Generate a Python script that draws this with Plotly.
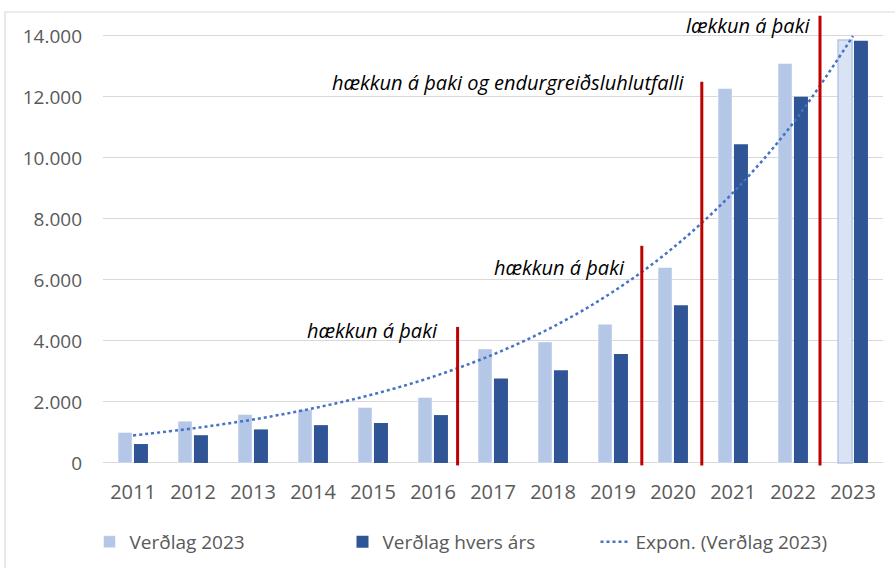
import numpy as np
import plotly.graph_objects as go

years = ["2011", "2012", "2013", "2014", "2015", "2016", "2017",
         "2018", "2019", "2020", "2021", "2022", "2023"]
verdlag_2023 = [1000, 1370, 1590, 1750, 1820, 2150, 3740,
                3970, 4550, 6410, 12280, 13100, 13870]
verdlag_hvers_ars = [620, 910, 1100, 1240, 1310, 1570, 2770,
                     3040, 3570, 5170, 10450, 12010, 13840]

# Events (position between years as category index, line top value, label)
event_pos = [5.41, 8.48, 9.48, 11.45]
event_top = [4460, 7120, 12500, 14660]
event_labels = ["hækkun á þaki", "hækkun á þaki",
                "hækkun á þaki og endurgreiðsluhlutfalli", "lækkun á þaki"]

y_ticks = [0, 2000, 4000, 6000, 8000, 10000, 12000, 14000]
y_tick_text = ["0", "2.000", "4.000", "6.000", "8.000", "10.000", "12.000", "14.000"]

# Exponential trendline fitted to Verðlag 2023
idx = np.arange(len(years))
b, a = np.polyfit(idx, np.log(verdlag_2023), 1)
trend = np.exp(a + b * idx)

light = "#b4c7e7"
dark = "#2f5597"
light_colors = [light] * (len(years) - 1) + ["#dae3f3"]
light_lines = ["#ffffff"] * (len(years) - 1) + [light]
light_widths = [0.5] * (len(years) - 1) + [1.5]

fig = go.Figure()
fig.add_trace(go.Bar(
    x=years, y=verdlag_2023, name="Verðlag 2023",
    marker=dict(color=light_colors, line=dict(color=light_lines, width=light_widths)),
))
fig.add_trace(go.Bar(
    x=years, y=verdlag_hvers_ars, name="Verðlag hvers árs",
    marker=dict(color=dark, line=dict(width=0)),
))
fig.add_trace(go.Scatter(
    x=years, y=trend, name="Expon. (Verðlag 2023)", mode="lines",
    line=dict(color="#4472c4", width=2.5, dash="dot", shape="spline"),
))

shapes = []
for p, t in zip(event_pos, event_top):
    shapes.append(dict(type="line", xref="x", yref="y", x0=p, x1=p, y0=-80, y1=t,
                       line=dict(color="#c00000", width=3)))
# chart border
shapes.append(dict(type="rect", xref="paper", yref="paper",
                   x0=-0.1256, x1=1.03, y0=-0.25, y1=1.0044,
                   line=dict(color="#d9d9d9", width=1.2), layer="below"))

ann_font = dict(family="Open Sans, DejaVu Sans, sans-serif", size=20, color="#000000", style="italic")
ann_x = [5.12, 8.23, 9.23, 11.32]
ann_y = [4354, 6420, 12490, 14360]
annotations = []
for lab, ax_, ay_ in zip(event_labels, ann_x, ann_y):
    annotations.append(dict(text=lab, x=ax_, y=ay_, xref="x", yref="y",
                            xanchor="right", yanchor="middle", showarrow=False,
                            font=ann_font))

fig.update_layout(
    width=895, height=568,
    margin=dict(l=103, r=12, t=14, b=102),
    paper_bgcolor="white", plot_bgcolor="white",
    barmode="group", bargap=0.47, bargroupgap=0.12,
    font=dict(family="Open Sans, DejaVu Sans, sans-serif", size=18, color="#595959"),
    showlegend=True,
    legend=dict(orientation="h", x=0.1, xref="container", xanchor="left",
                y=0.046, yref="container", yanchor="middle",
                font=dict(size=19, color="#595959"), itemwidth=30,
                entrywidth=208, traceorder="normal"),
    shapes=shapes,
    annotations=annotations,
)
fig.update_xaxes(showgrid=False, showline=False, ticks="", ticklabelstandoff=12,
                 automargin=False, tickfont=dict(size=20, color="#595959"))
fig.update_yaxes(range=[-100, 14721], tickvals=y_ticks, ticktext=y_tick_text,
                 showgrid=True, gridcolor="#d9d9d9", gridwidth=1.3,
                 zeroline=True, zerolinecolor="#d9d9d9", zerolinewidth=1.3,
                 showline=False, ticks="", ticklabelstandoff=20, automargin=False,
                 tickfont=dict(size=19, color="#595959"))

fig.write_html("out.html", config={"displayModeBar": False},
               post_script="document.body.style.margin='0';")
